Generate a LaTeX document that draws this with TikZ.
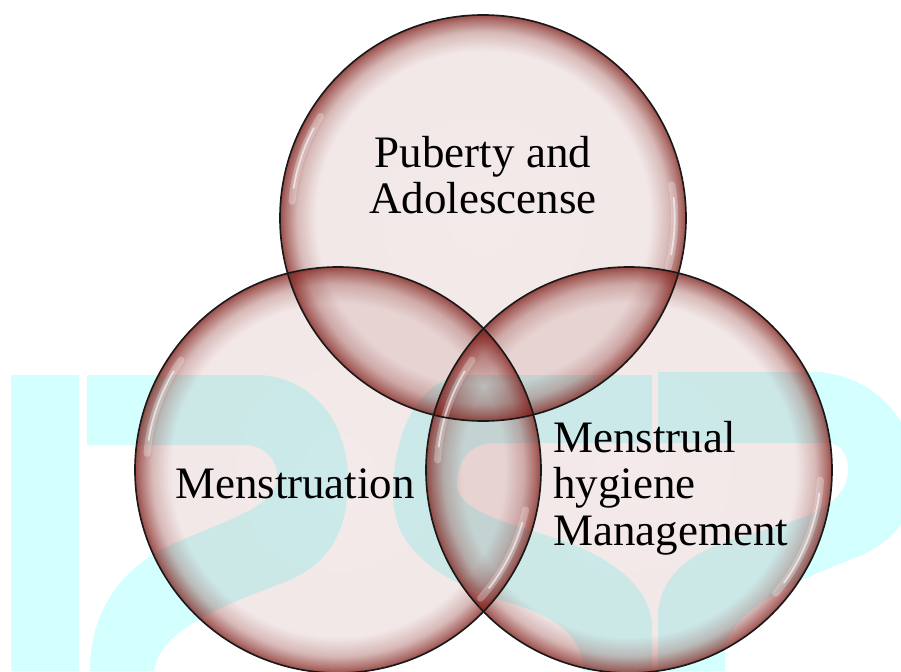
\documentclass[tikz,border=0pt]{standalone}
\usepackage{fontspec}
\setmainfont{Liberation Serif}
\usetikzlibrary{fadings}
\definecolor{wmcyan}{RGB}{212,255,255}
\definecolor{bubred}{RGB}{125,25,20}
\pgfdeclareradialshading{bubfadeshade}{\pgfpointorigin}{color(0bp)=(black!91); color(20.5bp)=(black!90); color(22.8bp)=(black!70); color(24.3bp)=(black!38); color(25bp)=(black!20); color(50bp)=(black!20)}
\pgfdeclarefading{bubblefade}{\pgfuseshading{bubfadeshade}}
\begin{document}
\begin{tikzpicture}[x=0.03cm,y=-0.03cm,
  wm/.style={fill=wmcyan, draw=none},
  bubble/.style={fill=bubred, path fading=bubblefade},
  rim/.style={draw=black!90, line width=1.4pt},
  glow/.style={draw=white, line width=6pt, opacity=0.28, line cap=round},
  gleam/.style={draw=white, line width=1.6pt, opacity=0.6, line cap=round},
  lbl/.style={font=\fontsize{38.4}{39.5}\selectfont, inner sep=0pt, text=black}]
\fill[white] (0,0) rectangle (901,671);
\useasboundingbox (0,0) rectangle (901,671);
% watermark
\fill[wm] (11,375) rectangle (79,671);
\fill[wm] (87,375) -- (255,375) .. controls (310,375) and (348,420) .. (348,480)
  .. controls (348,540) and (322,565) .. (290,580)
  .. controls (240,600) and (160,625) .. (154,671) -- (90,671)
  .. controls (90,620) and (112,578) .. (160,550)
  .. controls (205,528) and (262,512) .. (274,490)
  .. controls (284,470) and (270,445) .. (245,445) -- (87,445) -- cycle;
\fill[wm] (652,375) -- (470,375) .. controls (420,375) and (393,430) .. (393,495)
  .. controls (393,550) and (440,580) .. (500,600)
  .. controls (555,615) and (583,635) .. (583,671) -- (652,671) -- (652,625)
  .. controls (650,590) and (620,565) .. (575,545)
  .. controls (530,528) and (457,515) .. (457,485)
  .. controls (457,460) and (470,443) .. (495,443) -- (652,443) -- cycle;
\fill[wm] (658,372) -- (813,372) .. controls (870,372) and (915,420) .. (915,470)
  .. controls (915,520) and (893,540) .. (862,555)
  .. controls (800,580) and (733,605) .. (725,650) -- (725,671) -- (658,671) -- (658,615)
  .. controls (660,575) and (690,552) .. (740,537)
  .. controls (790,522) and (848,510) .. (848,470)
  .. controls (848,452) and (840,443) .. (825,443) -- (658,443) -- cycle;
% bubbles
\coordinate (cT) at (483,218);
\coordinate (cL) at (338,470);
\coordinate (cR) at (629,470);
\foreach \cc in {cT,cL,cR} \fill[bubble] (\cc) circle[radius=6.09cm];
\foreach \cc/\a/\b in {cL/145/175, cR/145/177, cT/148/175, cL/-42/-12, cR/-40/-3, cT/-15/10}{
  \draw[glow] (\cc) ++(\a:5.75cm) arc[start angle=\a, end angle=\b, radius=5.75cm];
  \draw[gleam] (\cc) ++(\a+4:5.75cm) arc[start angle=\a+4, end angle=\b-4, radius=5.75cm];
}
\foreach \cc in {cT,cL,cR} \draw[rim] (\cc) circle[radius=6.09cm];
% labels
\node[lbl, align=center, anchor=north] (puberty) at (483,136) {Puberty and\\Adolescense};
\node[lbl, anchor=base] (mens) at (295,498) {Menstruation};
\node[lbl, align=left, anchor=north west] (mhm) at (553,421) {Menstrual\\hygiene\\Management};
\end{tikzpicture}
\end{document}
